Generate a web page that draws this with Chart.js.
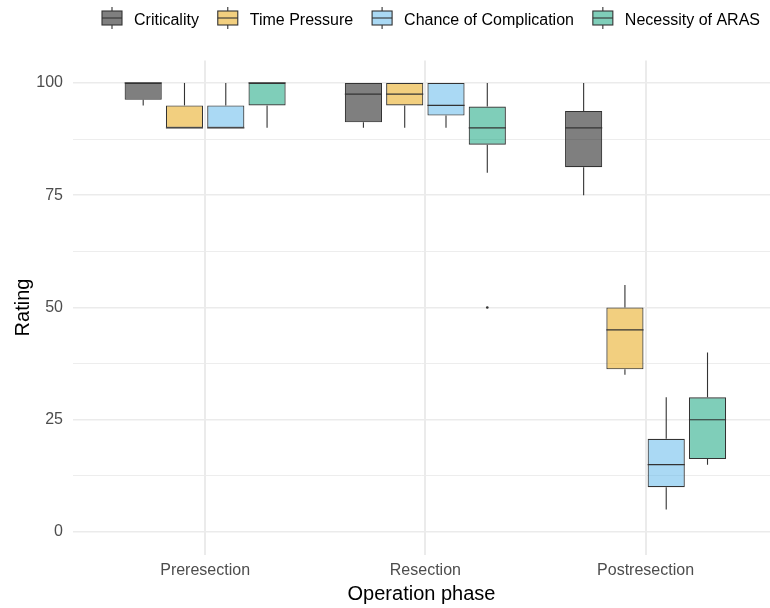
<!DOCTYPE html>
<html>
<head>
<meta charset="utf-8">
<script src="https://cdn.jsdelivr.net/npm/chart.js@4/dist/chart.umd.min.js"></script>
<style>
  html, body { margin: 0; padding: 0; background: #ffffff; }
  #c { display: block; }
</style>
</head>
<body>
<canvas id="c" width="770" height="608"></canvas>
<script>
// Operation phases on the x axis
const phases = ['Preresection', 'Resection', 'Postresection'];
const seriesNames = ['Criticality', 'Time Pressure', 'Chance of Complication', 'Necessity of ARAS'];

// Per phase: [lower whisker, Q1, median, Q3, upper whisker]
const criticality          = [[95, 96.25, 100, 100, 100], [90, 91.25, 97.5, 100, 100], [75, 81.25, 90, 93.75, 100]];
const timePressure         = [[90, 90, 90, 95, 100],      [90, 95, 97.5, 100, 100],    [35, 36.25, 45, 50, 55]];
const chanceOfComplication = [[90, 90, 90, 95, 100],      [90, 92.75, 95, 100, 100],   [5, 10, 15, 20.75, 30]];
const necessityOfARAS      = [[90, 95, 100, 100, 100],    [80, 86.25, 90, 94.75, 100], [15, 16.25, 25, 30, 40]];

// Points beyond the whiskers, per phase
const criticalityOutliers          = [[], [], []];
const timePressureOutliers         = [[], [], []];
const chanceOfComplicationOutliers = [[], [], []];
const necessityOfARASOutliers      = [[], [50], []];

const yTicks = [0, 25, 50, 75, 100];
const yMinorTicks = [12.5, 37.5, 62.5, 87.5];

const seriesColors = ['#000000', '#E69F00', '#56B4E9', '#009E73'];

const summaries = [criticality, timePressure, chanceOfComplication, necessityOfARAS];
const outlierSets = [criticalityOutliers, timePressureOutliers, chanceOfComplicationOutliers, necessityOfARASOutliers];

const FONT = '"Liberation Sans", Arial, Helvetica, sans-serif';
const INK = '#333333';

function withAlpha(hex, a) {
  const n = parseInt(hex.slice(1), 16);
  return `rgba(${(n >> 16) & 255}, ${(n >> 8) & 255}, ${n & 255}, ${a})`;
}

// Boxes are floating bars spanning Q1..Q3
const datasets = summaries.map((rows, d) => ({
  label: seriesNames[d],
  data: rows.map((s, i) => ({ x: i + 1, y: [s[1], s[3]] })),
  backgroundColor: withAlpha(seriesColors[d], 0.5),
  borderColor: INK,
  borderWidth: 1.1,
  borderSkipped: false,
  barPercentage: 0.9,
  categoryPercentage: 0.75
}));

// Whiskers behind the boxes; medians and outliers on top
const boxPlotParts = {
  id: 'boxPlotParts',
  beforeDatasetsDraw(chart) {
    const { ctx } = chart;
    const ys = chart.scales.y;
    ctx.save();
    ctx.strokeStyle = INK;
    ctx.lineWidth = 1.1;
    summaries.forEach((rows, d) => {
      const meta = chart.getDatasetMeta(d);
      rows.forEach((s, i) => {
        const bar = meta.data[i];
        ctx.beginPath();
        ctx.moveTo(bar.x, ys.getPixelForValue(s[3]));
        ctx.lineTo(bar.x, ys.getPixelForValue(s[4]));
        ctx.moveTo(bar.x, ys.getPixelForValue(s[1]));
        ctx.lineTo(bar.x, ys.getPixelForValue(s[0]));
        ctx.stroke();
      });
    });
    ctx.restore();
  },
  afterDatasetsDraw(chart) {
    const { ctx } = chart;
    const ys = chart.scales.y;
    ctx.save();
    ctx.strokeStyle = INK;
    ctx.fillStyle = INK;
    ctx.lineWidth = 1.2;
    summaries.forEach((rows, d) => {
      const meta = chart.getDatasetMeta(d);
      rows.forEach((s, i) => {
        const bar = meta.data[i];
        const half = bar.width / 2;
        const my = ys.getPixelForValue(s[2]);
        ctx.beginPath();
        ctx.moveTo(bar.x - half, my);
        ctx.lineTo(bar.x + half, my);
        ctx.stroke();
        outlierSets[d][i].forEach(v => {
          ctx.beginPath();
          ctx.arc(bar.x, ys.getPixelForValue(v), 1.3, 0, Math.PI * 2);
          ctx.fill();
        });
      });
    });
    ctx.restore();
  }
};

// Legend row with boxplot keys above the panel
const boxLegend = {
  id: 'boxLegend',
  afterDraw(chart) {
    const { ctx } = chart;
    const keyW = 20, keyGap = 12, leftEdge = 102, rightEdge = 760;
    const boxTop = 11, boxBottom = 25, whiskTop = 7, whiskBottom = 29, baseline = 24.5;
    ctx.save();
    ctx.font = `16px ${FONT}`;
    const items = chart.data.datasets.map(ds => ({
      text: ds.label, fill: ds.backgroundColor, w: ctx.measureText(ds.label).width
    }));
    const used = items.reduce((a, it) => a + keyW + keyGap + it.w, 0);
    const itemGap = (rightEdge - leftEdge - used) / (items.length - 1);
    let x = leftEdge;
    items.forEach(it => {
      const cx = x + keyW / 2;
      ctx.strokeStyle = INK;
      ctx.lineWidth = 1.1;
      ctx.beginPath();
      ctx.moveTo(cx, whiskTop); ctx.lineTo(cx, boxTop);
      ctx.moveTo(cx, boxBottom); ctx.lineTo(cx, whiskBottom);
      ctx.stroke();
      ctx.fillStyle = it.fill;
      ctx.fillRect(x, boxTop, keyW, boxBottom - boxTop);
      ctx.strokeRect(x, boxTop, keyW, boxBottom - boxTop);
      ctx.beginPath();
      ctx.moveTo(x, (boxTop + boxBottom) / 2); ctx.lineTo(x + keyW, (boxTop + boxBottom) / 2);
      ctx.stroke();
      ctx.fillStyle = '#000000';
      ctx.textBaseline = 'alphabetic';
      ctx.textAlign = 'left';
      ctx.fillText(it.text, x + keyW + keyGap, baseline);
      x += keyW + keyGap + it.w + itemGap;
    });
    ctx.restore();
  }
};

new Chart(document.getElementById('c'), {
  type: 'bar',
  data: { datasets },
  plugins: [boxPlotParts, boxLegend],
  options: {
    responsive: false,
    animation: false,
    devicePixelRatio: 1,
    layout: { padding: { top: 60.5, left: 0, right: 0, bottom: 0 } },
    plugins: {
      legend: { display: false },
      tooltip: { enabled: false }
    },
    scales: {
      x: {
        type: 'linear',
        min: 0.4,
        max: 3.565,
        offset: false,
        afterBuildTicks(scale) { scale.ticks = phases.map((p, i) => ({ value: i + 1 })); },
        afterFit(scale) { scale.height = 53.5; },
        ticks: {
          callback: v => phases[v - 1],
          color: '#4d4d4d',
          font: { family: FONT, size: 16 },
          padding: 6,
          autoSkip: false,
          maxRotation: 0
        },
        grid: { color: '#ebebeb', lineWidth: 2, drawTicks: false, offset: false },
        border: { display: false },
        title: {
          display: true,
          text: 'Operation phase',
          color: '#000000',
          font: { family: FONT, size: 20 },
          padding: { top: 0, bottom: 2 }
        }
      },
      y: {
        min: -5,
        max: 105,
        afterBuildTicks(scale) {
          scale.ticks = [...yTicks, ...yMinorTicks].sort((a, b) => a - b).map(v => ({ value: v }));
        },
        afterFit(scale) { scale.width = 73; },
        ticks: {
          callback: v => (yTicks.includes(v) ? String(v) : ''),
          color: '#4d4d4d',
          font: { family: FONT, size: 16 },
          padding: 10
        },
        grid: {
          color: '#ebebeb',
          lineWidth: c => (c.tick && yTicks.includes(c.tick.value) ? 1.6 : 0.9),
          drawTicks: false
        },
        border: { display: false },
        title: {
          display: true,
          text: 'Rating',
          color: '#000000',
          font: { family: FONT, size: 20 },
          padding: { top: 11, bottom: 0 }
        }
      }
    }
  }
});
</script>
</body>
</html>
